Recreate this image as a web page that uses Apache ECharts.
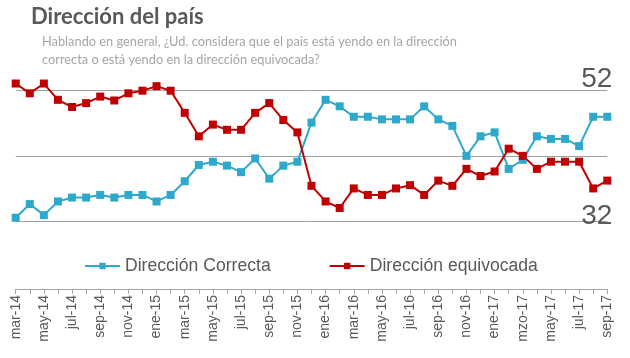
<!DOCTYPE html>
<html>
<head>
<meta charset="utf-8">
<script src="https://cdn.jsdelivr.net/npm/echarts@6/dist/echarts.min.js"></script>
<style>
html,body{margin:0;padding:0;background:#fff;}
#chart{width:630px;height:358px;}
</style>
</head>
<body>
<div id="chart"></div>
<script>
var months = ['mar-14','abr-14','may-14','jun-14','jul-14','ago-14','sep-14','oct-14','nov-14','dic-14',
  'ene-15','feb-15','mar-15','abr-15','may-15','jun-15','jul-15','ago-15','sep-15','oct-15','nov-15','dic-15',
  'ene-16','feb-16','mar-16','abr-16','may-16','jun-16','jul-16','ago-16','sep-16','oct-16','nov-16','dic-16',
  'ene-17','feb-17','mzo-17','abr-17','may-17','jun-17','jul-17','ago-17','sep-17'];
var correcta = [32.5,34.6,32.9,35.0,35.6,35.6,36.0,35.6,36.0,36.0,
  35.0,36.0,38.1,40.6,41.1,40.5,39.5,41.6,38.5,40.5,
  41.1,47.1,50.6,49.6,48.0,48.0,47.6,47.6,47.6,49.6,
  47.6,46.6,42.0,45.0,45.6,40.0,41.4,45.0,44.6,44.6,
  43.5,48.0,48.0];
var equivocada = [53.1,51.6,53.1,50.6,49.5,50.1,51.1,50.5,51.6,52.0,
  52.7,52.0,48.6,45.0,46.8,46.0,46.0,48.6,50.1,47.5,
  45.6,37.4,35.0,34.0,37.0,36.0,36.0,37.0,37.5,36.0,
  38.2,37.4,40.0,38.9,39.6,43.1,42.0,40.0,41.1,41.1,
  41.1,37.0,38.2];
var yTicks = [32, 42, 52];
var seriesNames = ['Dirección Correcta', 'Dirección equivocada'];
var titleText = 'Dirección del país';
var subtitleText = 'Hablando en general, ¿Ud. considera que el país está yendo en la dirección\ncorrecta o está yendo en la dirección equivocada?';

var chart = echarts.init(document.getElementById('chart'), null, {renderer: 'canvas'});
var option = {
  animation: false,
  title: [
    {text: titleText, left: 31, top: 6, padding: 0,
     textStyle: {fontFamily: 'Lato', fontWeight: 'bold', fontSize: 22, color: '#595959'}},
    {text: subtitleText, left: 42, top: 33, padding: 0,
     textStyle: {fontFamily: 'Lato', fontWeight: 'normal', fontSize: 12.8, lineHeight: 18, color: '#a6a6a6'}}
  ],
  legend: {
    left: 84, top: 257, padding: 0,
    itemWidth: 35, itemHeight: 8, itemGap: 58,
    textStyle: {fontFamily: 'Liberation Sans', fontSize: 17.6, color: '#595959'},
    data: seriesNames
  },
  grid: [
    {left: 15.7, right: 22.7, top: 90.7, height: 130.3},
    {left: 15.7, right: 22.7, top: 288, height: 1}
  ],
  xAxis: [
    {gridIndex: 0, type: 'category', data: months, boundaryGap: false, show: false},
    {gridIndex: 1, type: 'category', data: months, boundaryGap: false, position: 'bottom',
     axisLine: {lineStyle: {color: '#a6a6a6', width: 1}},
     axisTick: {show: true, interval: 0, length: 5, lineStyle: {color: '#a6a6a6'}},
     axisLabel: {interval: 1, rotate: 90, fontFamily: 'Liberation Sans', fontSize: 14, color: '#595959', margin: 6}}
  ],
  yAxis: [
    {gridIndex: 0, type: 'value', min: 32, max: 52, interval: 10, position: 'right',
     axisLine: {show: false}, axisTick: {show: false},
     splitLine: {lineStyle: {color: '#a0a0a0', width: 1}},
     axisLabel: {inside: true, margin: -5, align: 'right',
       formatter: function (v) {
         if (v === yTicks[2]) return '{t|' + v + '}';
         if (v === yTicks[0]) return '{b|' + v + '}';
         return '';
       },
       rich: {
         t: {fontFamily: 'Liberation Sans', fontSize: 28, color: '#595959', padding: [0, 0, 23, 0]},
         b: {fontFamily: 'Liberation Sans', fontSize: 28, color: '#595959', padding: [0, 0, 9, 0]}
       }}},
    {gridIndex: 1, type: 'value', show: false}
  ],
  series: [
    {name: seriesNames[0], type: 'line', xAxisIndex: 0, yAxisIndex: 0, data: correcta,
     symbol: 'rect', symbolSize: 8, clip: false, color: '#2ea8cb',
     lineStyle: {width: 2, color: '#2ea8cb'}, itemStyle: {color: '#2ea8cb'}},
    {name: seriesNames[1], type: 'line', xAxisIndex: 0, yAxisIndex: 0, data: equivocada,
     symbol: 'rect', symbolSize: 8, clip: false, color: '#c00000',
     lineStyle: {width: 2, color: '#c00000'}, itemStyle: {color: '#c00000'}}
  ]
};
chart.setOption(option);
</script>
</body>
</html>
